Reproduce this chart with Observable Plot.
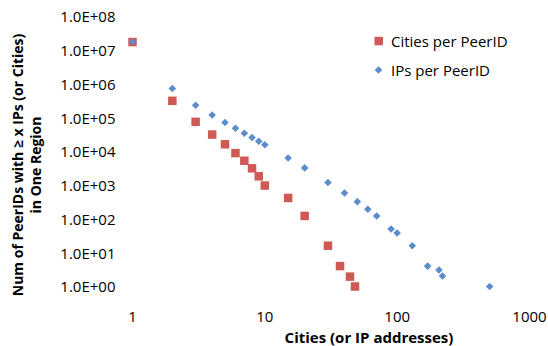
<!DOCTYPE html>
<html><head><meta charset="utf-8">
<script src="https://cdn.jsdelivr.net/npm/d3@7"></script>
<script src="https://cdn.jsdelivr.net/npm/@observablehq/plot@0.6"></script>
<style>
body{margin:0;background:#fff}
#chart{position:relative;width:548px;height:346px}
</style>
</head><body><div id="chart"></div>
<script>
const seriesNames = ["Cities per PeerID", "IPs per PeerID"];
const cityX = [1, 2, 3, 4, 5, 6, 7, 8, 9, 10, 15, 20, 30, 37, 44, 48];
const cityY = [1.87e7, 3.4e5, 8.1e4, 3.4e4, 1.75e4, 9.6e3, 5.7e3, 3.4e3, 1.97e3, 1.05e3, 450, 132, 17.3, 4.3, 2.1, 1.07];
const ipX = [1, 2, 3, 4, 5, 6, 7, 8, 9, 10, 15, 20, 30, 40, 50, 60, 70, 90, 100, 130, 170, 207, 220, 500];
const ipY = [1.9e7, 7.9e5, 2.5e5, 1.3e5, 7.7e4, 5.2e4, 3.7e4, 2.8e4, 2.15e4, 1.7e4, 6.9e3, 3.5e3, 1.3e3, 630, 350, 207, 132, 54, 41, 17.3, 4.3, 3.3, 2.2, 1.07];
const xTicks = [1, 10, 100, 1000];
const xTickLabels = ["1", "10", "100", "1000"];
const yTicks = [1, 1e1, 1e2, 1e3, 1e4, 1e5, 1e6, 1e7, 1e8];
const yTickLabels = ["1.0E+00", "1.0E+01", "1.0E+02", "1.0E+03", "1.0E+04", "1.0E+05", "1.0E+06", "1.0E+07", "1.0E+08"];
const xTitle = "Cities (or IP addresses)";
const yTitleLines = ["Num of PeerIDs with \u2265 x IPs (or Cities)", "in One Region"];
const colors = ["#CF5A55", "#5B8DCB"];

const cities = cityX.map((x, i) => ({x, y: cityY[i]}));
const ips = ipX.map((x, i) => ({x, y: ipY[i]}));
const FONT = "'Open Sans', sans-serif";

const plot = Plot.plot({
  width: 548, height: 346,
  marginLeft: 132, marginRight: 19, marginTop: 17, marginBottom: 59,
  style: {fontFamily: FONT, fontSize: "15px", color: "#000", background: "#fff", overflow: "visible"},
  x: {type: "log", domain: [1, 1000]},
  y: {type: "log", domain: [1, 1e8]},
  marks: [
    Plot.axisX({ticks: xTicks, tickFormat: d => xTickLabels[xTicks.indexOf(d)], tickSize: 0, tickPadding: 24, label: null}),
    Plot.axisY({ticks: yTicks, tickFormat: d => yTickLabels[yTicks.indexOf(d)], tickSize: 0, tickPadding: 17, label: null}),
    Plot.dot(cities, {x: "x", y: "y", symbol: "square", r: 4.8, fill: colors[0]}),
    Plot.dot(ips, {x: "x", y: "y", symbol: "diamond2", r: 3.4, fill: colors[1]})
  ]
});
document.getElementById("chart").appendChild(plot);

const svg = d3.select(plot);
svg.append("text")
  .attr("x", 369).attr("y", 337)
  .attr("text-anchor", "middle").attr("dominant-baseline", "central")
  .style("font-family", FONT).style("font-size", "15px").style("font-weight", "bold")
  .attr("fill", "#000").text(xTitle);

const yt = svg.append("g").attr("transform", "translate(0,165) rotate(-90)");
yTitleLines.forEach((line, i) => {
  yt.append("text")
    .attr("x", 0).attr("y", i === 0 ? 17 : 35)
    .attr("text-anchor", "middle").attr("dominant-baseline", "central")
    .style("font-family", FONT).style("font-size", "14px").style("font-weight", "bold")
    .attr("fill", "#000").text(line);
});

// legend
const lg = svg.append("g");
lg.append("rect").attr("x", 374.5).attr("y", 36.8).attr("width", 8.5).attr("height", 8.5).attr("fill", colors[0]);
lg.append("path").attr("d", "M378.5,66.2L382.3,70L378.5,73.8L374.7,70Z").attr("fill", colors[1]);
seriesNames.forEach((name, i) => {
  lg.append("text")
    .attr("x", 391).attr("y", i === 0 ? 41 : 70)
    .attr("text-anchor", "start").attr("dominant-baseline", "central")
    .style("font-family", FONT).style("font-size", "15px")
    .attr("fill", "#000").text(name);
});
</script>
</body></html>
